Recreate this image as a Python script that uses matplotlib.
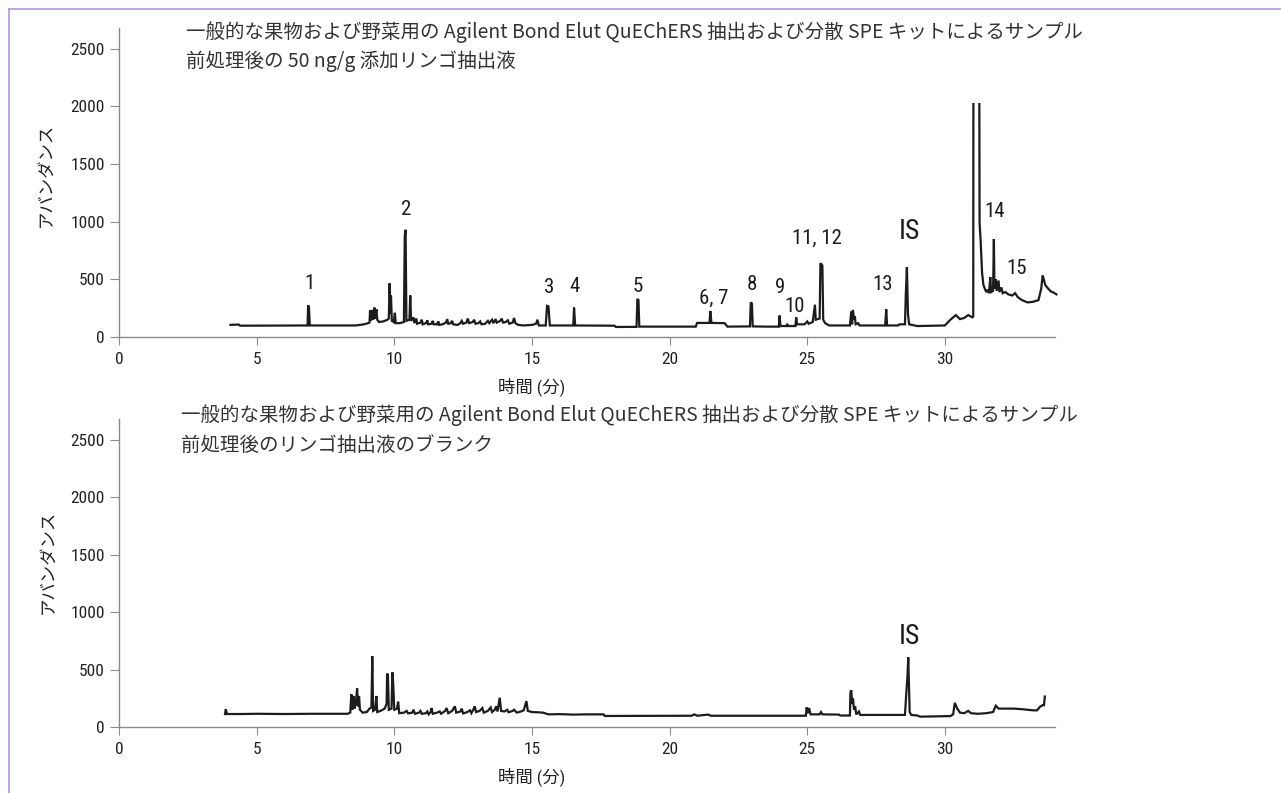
import numpy as np
import matplotlib
matplotlib.use('Agg')
import matplotlib.pyplot as plt
from matplotlib import font_manager
from matplotlib.patches import Rectangle
from matplotlib.lines import Line2D


##################################################
#################### DATA ########################
##################################################
title_line1 = '一般的な果物および野菜用の Agilent Bond Elut QuEChERS 抽出および分散 SPE キットによるサンプル'
sample_line2 = '前処理後の 50 ng/g 添加リンゴ抽出液'
blank_line2 = '前処理後のリンゴ抽出液のブランク'
x_label = '時間 (分)'
y_label = 'アバンダンス'

x_ticks = [0, 5, 10, 15, 20, 25, 30]
y_ticks = [0, 500, 1000, 1500, 2000, 2500]

# spiked apple extract (time [min], abundance)
sample_early = [
    (4.05, 105), (4.35, 108), (4.40, 98), (6.85, 100), (6.87, 275), (6.90, 260),
    (6.93, 100), (8.60, 100), (8.90, 110), (9.05, 120), (9.10, 125), (9.12, 230),
    (9.15, 140), (9.20, 235), (9.23, 150), (9.28, 255), (9.31, 160), (9.35, 240),
    (9.38, 150), (9.45, 130), (9.60, 135), (9.75, 150), (9.80, 160), (9.83, 465),
    (9.86, 200), (9.88, 360), (9.91, 140), (9.98, 130), (10.02, 210), (10.05, 120),
    (10.20, 120), (10.35, 130), (10.38, 870), (10.41, 930), (10.44, 140), (10.55, 150),
    (10.58, 360), (10.61, 140), (10.70, 170), (10.73, 120),
]
sample_noise = [
    (10.80, 160), (10.83, 115), (10.95, 125), (11.00, 150), (11.03, 110), (11.15, 120),
    (11.20, 145), (11.23, 110), (11.35, 115), (11.40, 140), (11.43, 110), (11.55, 110),
    (11.60, 135), (11.63, 105), (11.75, 110), (11.88, 125), (11.92, 155), (11.96, 115),
    (12.05, 120), (12.10, 140), (12.14, 110), (12.30, 105), (12.40, 120), (12.45, 140),
    (12.50, 115), (12.62, 125), (12.67, 160), (12.72, 120), (12.85, 130), (12.90, 150),
    (12.95, 115), (13.05, 120), (13.12, 135), (13.17, 110), (13.30, 115), (13.40, 140),
    (13.45, 120), (13.55, 150), (13.60, 120), (13.68, 155), (13.72, 125), (13.85, 140),
    (13.90, 160), (13.95, 125), (14.05, 130), (14.12, 145), (14.18, 115), (14.30, 125),
    (14.35, 165), (14.40, 120), (14.50, 105), (14.70, 100), (15.00, 105), (15.15, 115),
    (15.20, 150), (15.25, 100),
]
sample_mid = [
    (15.50, 100), (15.55, 270), (15.60, 265),
    (15.65, 100), (16.50, 100), (16.53, 255), (16.57, 100), (18.00, 98), (18.05, 87),
    (18.80, 88), (18.83, 330), (18.87, 320), (18.90, 90), (20.95, 90), (21.00, 122),
    (21.45, 122), (21.48, 226), (21.52, 122), (22.00, 120), (22.10, 90), (22.92, 92),
    (22.95, 300), (22.99, 290), (23.02, 92), (23.50, 90), (23.97, 90), (23.99, 186),
    (24.03, 95), (24.25, 95), (24.27, 115), (24.30, 95), (24.57, 95), (24.60, 170),
    (24.63, 110), (24.90, 110), (25.00, 135), (25.05, 115), (25.20, 130), (25.28, 280),
    (25.31, 150), (25.45, 160), (25.48, 640), (25.55, 620), (25.58, 150), (25.65, 120),
    (25.80, 100), (26.55, 100), (26.60, 220), (26.63, 110), (26.66, 235), (26.70, 150),
    (26.73, 180), (26.76, 110), (26.85, 120), (26.90, 100), (27.83, 100), (27.87, 240),
    (27.90, 100), (28.30, 100), (28.35, 110), (28.55, 110), (28.58, 365), (28.62, 606),
    (28.66, 200), (28.70, 110), (29.00, 95), (30.00, 100),
]
sample_late = [
    (30.20, 150), (30.40, 190), (30.55, 155), (30.70, 165), (30.85, 190), (31.00, 170),
    (31.03, 180), (31.04, 3500), (31.24, 3500), (31.26, 990), (31.30, 830), (31.35, 560),
    (31.40, 450), (31.45, 420), (31.50, 390), (31.55, 410), (31.60, 380), (31.65, 520),
    (31.68, 390), (31.75, 400), (31.78, 850), (31.80, 420), (31.85, 500), (31.88, 400),
    (31.95, 490), (31.98, 390), (32.05, 430), (32.10, 380), (32.20, 390), (32.30, 370),
    (32.45, 360), (32.55, 380), (32.65, 345), (32.80, 320), (33.00, 300), (33.20, 305),
    (33.40, 320), (33.50, 420), (33.55, 535), (33.65, 450), (33.75, 420), (33.85, 395),
    (33.95, 385), (34.05, 370),
]

# blank apple extract
blank_early = [
    (3.85, 113), (3.88, 155), (3.92, 113), (4.50, 113), (5.00, 115), (6.00, 113),
    (7.00, 115), (8.30, 115), (8.40, 125), (8.44, 285), (8.47, 150), (8.52, 270),
    (8.55, 160), (8.60, 200), (8.65, 335), (8.68, 180), (8.72, 270), (8.75, 150),
    (8.85, 125), (9.00, 130), (9.10, 160), (9.17, 170), (9.20, 615), (9.23, 140),
    (9.30, 150), (9.35, 270), (9.38, 130), (9.50, 140), (9.65, 160), (9.72, 200),
    (9.74, 465), (9.77, 450), (9.80, 150), (9.90, 160), (9.93, 475), (9.96, 380),
    (10.00, 150), (10.10, 160), (10.14, 220), (10.18, 120),
]
blank_noise = [
    (10.35, 125), (10.45, 140), (10.50, 118), (10.65, 125), (10.70, 150), (10.75, 115),
    (10.90, 125), (10.95, 140), (11.00, 115), (11.15, 120), (11.20, 135), (11.25, 110),
    (11.32, 130), (11.35, 165), (11.40, 115), (11.55, 125), (11.65, 135), (11.70, 115),
    (11.85, 140), (11.90, 165), (11.96, 120), (12.10, 140), (12.20, 180), (12.25, 125),
    (12.40, 135), (12.45, 160), (12.50, 118), (12.65, 130), (12.75, 145), (12.80, 120),
    (12.88, 155), (12.92, 180), (12.97, 130), (13.10, 140), (13.20, 165), (13.25, 125),
    (13.40, 140), (13.50, 170), (13.55, 130), (13.65, 150), (13.70, 180), (13.75, 135),
    (13.83, 255), (13.88, 140), (14.00, 135), (14.10, 150), (14.15, 128), (14.30, 140),
    (14.35, 150), (14.45, 125), (14.60, 135), (14.70, 145), (14.80, 225), (14.85, 140),
    (15.00, 130), (15.20, 128), (15.40, 125),
]
blank_mid = [
    (15.60, 110), (16.00, 112), (16.50, 108), (17.00, 110), (17.60, 110), (17.65, 96),
    (20.80, 98), (20.90, 110), (21.00, 98), (21.40, 108), (21.50, 98), (24.95, 98),
    (24.98, 170), (25.02, 120), (25.07, 165), (25.12, 110), (25.45, 110), (25.50, 130),
    (25.55, 110), (26.15, 108), (26.20, 100), (26.55, 100), (26.57, 300), (26.60, 320),
    (26.63, 200), (26.66, 250), (26.70, 150), (26.74, 180), (26.78, 110), (26.88, 135),
    (26.92, 105),
]
blank_late = [
    (28.55, 105), (28.60, 300), (28.64, 440), (28.67, 606), (28.72, 130), (28.78, 105),
    (29.00, 100), (29.10, 90), (30.20, 95), (30.30, 110), (30.36, 210), (30.45, 160),
    (30.55, 125), (30.70, 120), (30.85, 140), (30.95, 120), (31.20, 115), (31.50, 120),
    (31.75, 130), (31.85, 185), (31.95, 160), (32.50, 160), (32.80, 155), (33.20, 145),
    (33.35, 145), (33.45, 175), (33.55, 190), (33.60, 190), (33.63, 265),
]

# peak labels (text, time, abundance)
sample_peaks = [
    ('1', 6.93, 467), ('2', 10.42, 1104), ('3', 15.64, 426), ('4', 16.53, 435),
    ('5', 18.85, 435), ('6, 7', 21.6, 339), ('8', 23.0, 452), ('9', 24.0, 426),
    ('10', 24.55, 261), ('11, 12', 25.35, 852), ('13', 27.74, 452),
    ('14', 31.8, 1087), ('15', 32.6, 591),
]
sample_is = (28.7, 913)
blank_is = (28.7, 791)
detector_max = 2030

##################################################
#################### STYLE #######################
##################################################
GRAY = '#8a8a8a'
INK = '#1c1c1c'

installed = {f.name for f in font_manager.fontManager.ttflist}
narrow_fonts = [n for n in ['Liberation Sans Narrow', 'Roboto Condensed',
                            'Open Sans Condensed', 'DejaVu Sans Condensed']
                if n in installed]
NARROW = narrow_fonts[:1] + ['Noto Sans CJK JP', 'DejaVu Sans']
CJK = ['Noto Sans CJK JP', 'DejaVu Sans']


def setup_axes(ax):
    ax.set_xlim(0, 34)
    ax.set_ylim(0, 2680)
    for side in ['top', 'right']:
        ax.spines[side].set_visible(False)
    for side in ['left', 'bottom']:
        ax.spines[side].set_color(GRAY)
        ax.spines[side].set_linewidth(1.0)
    ax.set_xticks(x_ticks)
    ax.set_yticks(y_ticks)
    ax.set_xticklabels([str(t) for t in x_ticks], family=NARROW, fontsize=12.5)
    ax.set_yticklabels([str(t) for t in y_ticks], family=NARROW, fontsize=12.5)
    ax.tick_params(axis='x', direction='out', length=5.5, color=GRAY,
                   labelcolor='#222222', pad=5)
    ax.tick_params(axis='y', direction='out', length=6.5, color=GRAY,
                   labelcolor='#222222', pad=3.5)
    ax.set_xlabel(x_label, family=NARROW, fontsize=12.5, color='#222222')
    ax.set_ylabel(y_label, family=NARROW, fontsize=12.5, color='#222222')
    ax.xaxis.set_label_coords(15 / 34, -0.13)
    ax.patch.set_visible(False)


def draw_trace(ax, segments, clip=None):
    pts = [p for seg in segments for p in seg]
    t = np.array([p[0] for p in pts])
    v = np.array([p[1] for p in pts])
    line, = ax.plot(t, v, color=INK, lw=1.6, solid_joinstyle='miter')
    if clip is not None:
        rect = Rectangle((0, 0), 35, clip, transform=ax.transData)
        line.set_clip_path(rect)
    return line


def main():
    fig = plt.figure(figsize=(12.81, 7.93), dpi=100)
    ax1 = fig.add_axes([119 / 1281, 1 - 337 / 793, 936 / 1281, 309 / 793])
    ax2 = fig.add_axes([119 / 1281, 1 - 727 / 793, 936 / 1281, 308 / 793])

    setup_axes(ax1)
    setup_axes(ax2)
    ax1.yaxis.set_label_coords(-0.07, 0.524)
    ax2.yaxis.set_label_coords(-0.068, 0.536)

    draw_trace(ax1, [sample_early, sample_noise, sample_mid, sample_late],
               clip=detector_max)
    draw_trace(ax2, [blank_early, blank_noise, blank_mid, blank_late])

    ax1.text(0.0715, 0.988, title_line1, transform=ax1.transAxes, family=CJK,
             fontsize=14, color='#333333', va='center', ha='left')
    ax1.text(0.0715, 0.893, sample_line2, transform=ax1.transAxes, family=CJK,
             fontsize=14, color='#333333', va='center', ha='left')
    ax2.text(0.066, 1.012, title_line1, transform=ax2.transAxes, family=CJK,
             fontsize=14, color='#333333', va='center', ha='left')
    ax2.text(0.066, 0.914, blank_line2, transform=ax2.transAxes, family=CJK,
             fontsize=14, color='#333333', va='center', ha='left')

    for label, t, v in sample_peaks:
        ax1.text(t, v, label, family=NARROW, fontsize=15, color=INK,
                 ha='center', va='center')
    ax1.text(sample_is[0], sample_is[1], 'IS', family=NARROW, fontsize=20,
             color=INK, ha='center', va='center')
    ax2.text(blank_is[0], blank_is[1], 'IS', family=NARROW, fontsize=20,
             color=INK, ha='center', va='center')

    # lavender frame on the top and left edges
    fig.add_artist(Line2D([9 / 1281, 1], [1 - 9 / 793, 1 - 9 / 793],
                          transform=fig.transFigure, color='#b09ad0', lw=1.2))
    fig.add_artist(Line2D([9 / 1281, 9 / 1281], [0, 1 - 9 / 793],
                          transform=fig.transFigure, color='#b09ad0', lw=1.2))

    fig.savefig('out.png', dpi=100)


if __name__ == '__main__':
    main()
